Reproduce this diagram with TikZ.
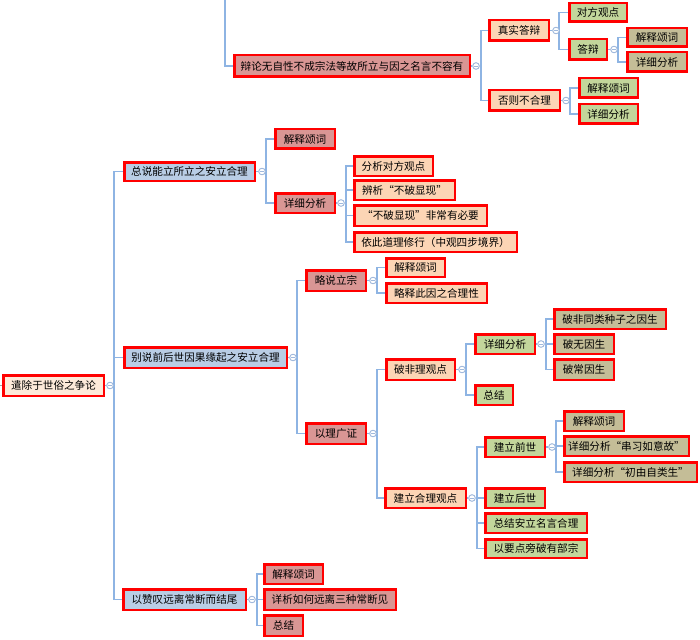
\documentclass[tikz,border=0pt]{standalone}
\usepackage{fontspec}
\setmainfont{Noto Sans CJK SC}
\definecolor{cblue}{RGB}{185,205,229}
\definecolor{crose}{RGB}{217,150,148}
\definecolor{cpeach}{RGB}{252,213,181}
\definecolor{cgreen}{RGB}{195,214,155}
\definecolor{ctan}{RGB}{196,189,151}
\definecolor{croot}{RGB}{253,234,218}
\definecolor{cline}{RGB}{142,180,227}
\definecolor{ctog}{RGB}{160,185,220}
\tikzset{
  box/.style={draw=red, line width=2.5pt, inner sep=0pt, font=\fontsize{10.6}{12}\selectfont, text=black},
  rootbox/.style={fill=croot},
  bluebox/.style={fill=cblue},
  rosebox/.style={fill=crose},
  peachbox/.style={fill=cpeach},
  greenbox/.style={fill=cgreen},
  tanbox/.style={fill=ctan},
  conn/.style={draw=cline, line width=1.4pt},
  tog/.style={circle, draw=ctog, line width=0.8pt, fill=white, minimum size=6.5pt, inner sep=0pt,
    path picture={\draw[ctog, line width=0.7pt] ([xshift=-1.8pt]path picture bounding box.center) -- ([xshift=1.8pt]path picture bounding box.center);}}
}
% name, x1, y1, x2, y2, style, text
\newcommand\bx[7]{%
  \pgfmathsetmacro\cxx{(#2+#4)/2}\pgfmathsetmacro\cyy{(#3+#5)/2}%
  \pgfmathsetmacro\ww{#4-#2-2.5}\pgfmathsetmacro\hh{#5-#3-2.5}%
  \node[box,#6,minimum width=\ww pt,minimum height=\hh pt] (#1) at (\cxx,\cyy) {#7};}
\begin{document}
\begin{tikzpicture}[x=1pt,y=-1pt]
\useasboundingbox (0,0) rectangle (700,639);
% nodes
\bx{r}{2}{374}{105}{397}{rootbox}{遣除于世俗之争论}
\bx{A}{123}{161}{256}{182}{bluebox}{总说能立所立之安立合理}
\bx{B}{123}{346}{288}{369}{bluebox}{别说前后世因果缘起之安立合理}
\bx{C}{122}{588}{247}{611}{bluebox}{以赞叹远离常断而结尾}
\bx{T}{233}{54}{471}{78}{rosebox}{辩论无自性不成宗法等故所立与因之名言不容有}
\bx{T1}{488}{19}{550}{42}{peachbox}{真实答辩}
\bx{T2}{488}{89}{561}{112}{peachbox}{否则不合理}
\bx{T11}{568}{2}{628}{23}{greenbox}{对方观点}
\bx{T12}{568}{38}{608}{61}{greenbox}{答辩}
\bx{T121}{626}{27}{688}{48}{tanbox}{解释颂词}
\bx{T122}{626}{51}{688}{73}{tanbox}{详细分析}
\bx{T21}{578}{77}{639}{99}{greenbox}{解释颂词}
\bx{T22}{578}{103}{639}{125}{greenbox}{详细分析}
\bx{A1}{274}{128}{336}{150}{rosebox}{解释颂词}
\bx{A2}{274}{192}{336}{214}{rosebox}{详细分析}
\bx{A21}{353}{155}{434}{177}{peachbox}{分析对方观点}
\bx{A22}{353}{179}{456}{201}{peachbox}{辨析“不破显现”}
\bx{A23}{353}{204}{488}{227}{peachbox}{“不破显现”非常有必要}
\bx{A24}{353}{231}{518}{253}{peachbox}{依此道理修行（中观四步境界）}
\bx{B1}{305}{269}{367}{292}{rosebox}{略说立宗}
\bx{B2}{305}{422}{367}{445}{rosebox}{以理广证}
\bx{B11}{385}{257}{446}{278}{peachbox}{解释颂词}
\bx{B12}{385}{282}{488}{304}{peachbox}{略释此因之合理性}
\bx{B21}{385}{358}{456}{381}{peachbox}{破非理观点}
\bx{B22}{384}{487}{467}{509}{peachbox}{建立合理观点}
\bx{B211}{474}{333}{536}{355}{greenbox}{详细分析}
\bx{B212}{474}{384}{514}{406}{greenbox}{总结}
\bx{B2111}{553}{308}{667}{330}{tanbox}{破非同类种子之因生}
\bx{B2112}{553}{333}{615}{355}{tanbox}{破无因生}
\bx{B2113}{553}{358}{615}{381}{tanbox}{破常因生}
\bx{B221}{484}{436}{546}{458}{greenbox}{建立前世}
\bx{B222}{484}{487}{546}{509}{greenbox}{建立后世}
\bx{B223}{484}{512}{588}{534}{greenbox}{总结安立名言合理}
\bx{B224}{484}{538}{588}{559}{greenbox}{以要点旁破有部宗}
\bx{B2211}{563}{410}{625}{432}{tanbox}{解释颂词}
\bx{B2212}{563}{435}{690}{457}{tanbox}{详细分析“串习如意故”}
\bx{B2213}{563}{461}{698}{483}{tanbox}{详细分析“初由自类生”}
\bx{C1}{263}{563}{324}{585}{rosebox}{解释颂词}
\bx{C2}{263}{588}{397}{611}{rosebox}{详析如何远离三种常断见}
\bx{C3}{263}{614}{304}{637}{rosebox}{总结}
% toggles (collapse circles) and bus points
\foreach \p/\cx/\bxx in {r/110/114, T/476/481, T1/556/559, T12/614/618, T2/566/570,
  A/262/266, A2/341/346, B/293/297, B1/373/377, B2/373/377, B21/462/466,
  B211/541/546, B22/472/477, B221/552/556, C/252/257}{
  \node[tog] (\p t) at (\cx,0 |- \p.east) {};
  \coordinate (\p b) at (\bxx,0 |- \p.east);
}
% bus-to-child connectors
\foreach \p/\c in {r/A, r/B, r/C, T/T1, T/T2, T1/T11, T1/T12, T12/T121, T12/T122,
  T2/T21, T2/T22, A/A1, A/A2, A2/A21, A2/A22, A2/A23, A2/A24, B/B1, B/B2,
  B1/B11, B1/B12, B2/B21, B2/B22, B21/B211, B21/B212, B211/B2111, B211/B2112,
  B211/B2113, B22/B221, B22/B222, B22/B223, B22/B224, B221/B2211, B221/B2212,
  B221/B2213, C/C1, C/C2, C/C3}{
  \draw[conn] (\p b) |- (\c.west);
}
% parent-to-toggle-to-bus
\foreach \p in {r, T, T1, T12, T2, A, A2, B, B1, B2, B21, B211, B22, B221, C}{
  \draw[conn] (\p t.east) -- (\p b);
  \draw[conn] (\p.east) -- (\p t.west);
  \node[tog] at (\p t) {};
}
% incoming lines from outside the view
\coordinate (topin) at (225,0);
\draw[conn] (topin) |- (T.west);
\coordinate (rin) at (0,385.5);
\draw[draw=gray!70, line width=1pt] (rin) -- (r.west);
\end{tikzpicture}
\end{document}
